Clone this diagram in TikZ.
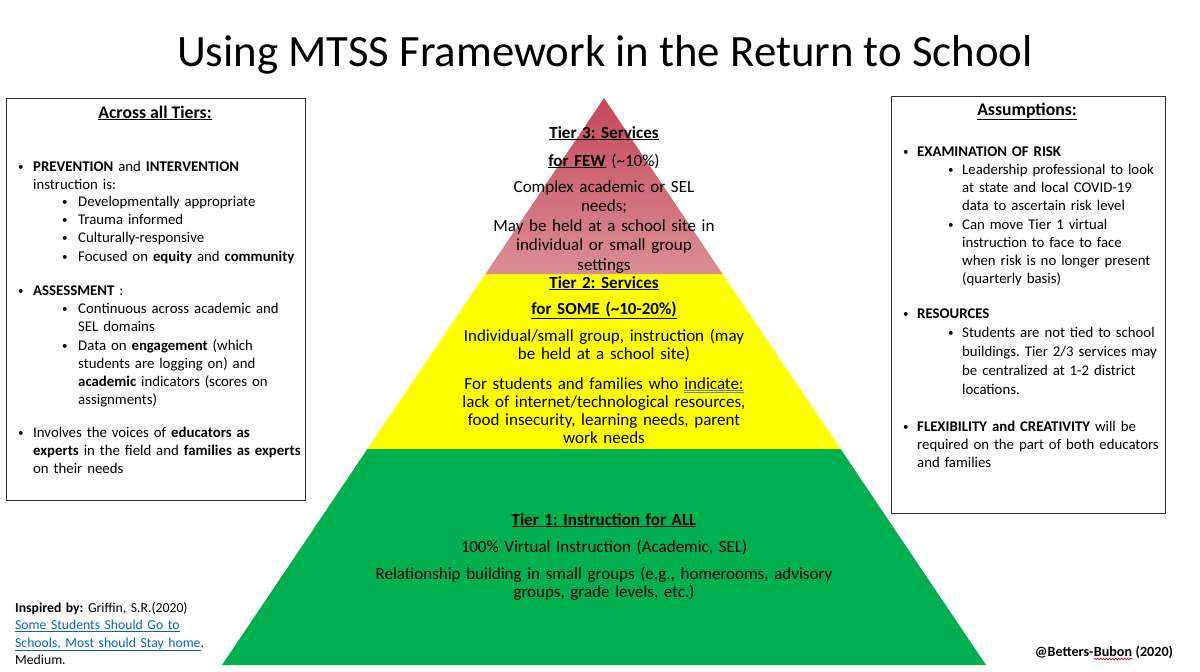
\documentclass[tikz,border=0pt]{standalone}
\usepackage{fontspec}
\setmainfont{Carlito}
\usetikzlibrary{positioning,decorations.pathmorphing}
\frenchspacing

\definecolor{tierthreetop}{RGB}{196,72,90}
\definecolor{tierthreebot}{RGB}{219,142,150}
\definecolor{tiertwo}{RGB}{255,255,0}
\definecolor{tierone}{RGB}{0,176,80}
\definecolor{boxline}{RGB}{50,50,50}
\definecolor{linkblue}{RGB}{5,99,193}
\definecolor{gramblue}{RGB}{110,130,170}

\newcommand{\gramline}[1]{\rlap{\textcolor{gramblue}{\underline{\underline{\phantom{#1}}}}}#1}
\newcommand{\bu}[1]{\textbf{\underline{#1}}}
\newcommand{\smalldot}{{\fontsize{11}{11}\selectfont\raisebox{1pt}{•}}}

\tikzset{
  sidebox/.style={draw=boxline, line width=1pt},
  boxfont/.style={font=\fontsize{14.8}{18}\selectfont},
  heading/.style={font=\fontsize{17.7}{20}\selectfont, anchor=base, inner sep=0pt},
  dot/.style={boxfont, anchor=base west, inner sep=0pt},
  entry/.style={boxfont, anchor=base west, inner sep=0pt, text width=290pt, align=left},
  tiertext/.style={anchor=base, inner sep=0pt, text width=600pt, align=center, font=\fontsize{17}{#1}\selectfont},
  tiertext/.default=19.5,
  srcfont/.style={font=\fontsize{13.7}{17.5}\selectfont},
  sigfont/.style={font=\fontsize{14.1}{17}\selectfont\bfseries, inner sep=0pt},
}

\begin{document}
\begin{tikzpicture}[x=1pt, y=-1pt]
\useasboundingbox (0,0) rectangle (1200,672);

% title
\node[anchor=base, inner sep=0pt, font=\fontsize{44.8}{50}\selectfont] (title) at (605,66) {Using MTSS Framework in the Return to School};

% pyramid
\fill[tierone] (222,665) -- (367.4,449) -- (840.6,449) -- (986,665) -- cycle;
\fill[tiertwo] (367.4,449) -- (485.4,274) -- (722.6,274) -- (840.6,449) -- cycle;
\shade[top color=tierthreetop, bottom color=tierthreebot] (485.4,274) -- (604,98) -- (722.6,274) -- cycle;

% tier 3
\node[tiertext] (t3a) at (604,138) {\bu{Tier 3: Services}};
\node[tiertext] (t3b) at (604,166) {\bu{for FEW} (\textasciitilde10\%)};
\node[tiertext] (t3c) at (604,192) {Complex academic or SEL\\needs;\\May be held at a school site in\\individual or small group\\settings};

% tier 2
\node[tiertext] (t2a) at (604,288) {\bu{Tier 2: Services}};
\node[tiertext] (t2b) at (604,314) {\bu{for SOME (\textasciitilde10-20\%)}};
\node[tiertext=18] (t2c) at (604,341) {Individual/small group, instruction (may\\be held at a school site)};
\node[tiertext=18] (t2d) at (604,389) {For students and families who \gramline{indicate:}\\lack of internet/technological resources,\\food insecurity, learning needs, parent\\work needs};

% tier 1
\node[tiertext] (t1a) at (604,525) {\bu{Tier 1: Instruction for ALL}};
\node[tiertext] (t1b) at (604,552) {100\% Virtual Instruction (Academic, SEL)};
\node[tiertext=18] (t1c) at (604,579) {Relationship building in small groups (e.g., homerooms, advisory\\groups, grade levels, etc.)};

% left box
\draw[sidebox] (6,98) rectangle (305,500);
\node[heading] (across) at (155,118) {\bu{Across all Tiers:}};
\node[dot] at (18,171) {\smalldot};
\node[entry] (prev) at (33,171) {\textbf{PREVENTION} and \textbf{INTERVENTION}\\instruction is:};
\foreach \t [count=\i] in {Developmentally appropriate, Trauma informed, Culturally-responsive, Focused on \textbf{equity} and \textbf{community}}{
  \node[dot] at (62,188+18.3*\i) {\smalldot};
  \node[entry] (prev\i) at (78,188+18.3*\i) {\t};
}
\node[dot] at (18,295) {\smalldot};
\node[entry] (assess) at (33,295) {\textbf{ASSESSMENT} :};
\node[dot] at (62,313) {\smalldot};
\node[entry] (assess1) at (78,313) {Continuous across academic and\\SEL domains};
\node[dot] at (62,350) {\smalldot};
\node[entry] (assess2) at (78,350) {Data on \textbf{engagement} (which\\students are logging on) and\\\textbf{academic} indicators (scores on\\assignments)};
\node[dot] at (18,437) {\smalldot};
\node[entry] (voices) at (33,437) {Involves the voices of \textbf{educators as}\\\textbf{experts} in the field and \textbf{families as experts}\\on their needs};

% right box
\draw[sidebox] (891,96) rectangle (1165,513);
\node[heading] (assume) at (1027,115) {\bu{Assumptions:}};
\node[dot] at (903,156) {\smalldot};
\node[entry] (risk) at (917,156) {\textbf{EXAMINATION OF RISK}};
\node[dot] at (948,174) {\smalldot};
\node[entry] (risk1) at (962,174) {Leadership professional to look\\at state and local COVID-19\\data to ascertain risk level};
\node[dot] at (948,229) {\smalldot};
\node[entry] (risk2) at (962,229) {Can move Tier 1 virtual\\instruction to face to face\\when risk is no longer present\\(quarterly basis)};
\node[dot] at (903,318) {\smalldot};
\node[entry] (res) at (917,318) {\textbf{RESOURCES}};
\node[dot] at (948,337) {\smalldot};
\node[entry, font=\fontsize{14.8}{19}\selectfont] (res1) at (962,337) {Students are not tied to school\\buildings. Tier 2/3 services may\\be centralized at 1-2 district\\locations.};
\node[dot] at (903,431) {\smalldot};
\node[entry] (flex) at (917,431) {\textbf{FLEXIBILITY and CREATIVITY} will be\\required on the part of both educators\\and families};

% source and signature
\node[srcfont, anchor=base west, inner sep=0pt, text width=240pt, align=left] (src) at (15,612) {\textbf{Inspired by:} Griffin, S.R.(2020)\\\textcolor{linkblue}{\underline{Some Students Should Go to}}\\\textcolor{linkblue}{\underline{Schools, Most should Stay home}}.\\Medium.};
\node[sigfont, anchor=base] (sigB) at (1113,656) {Bubon};
\node[sigfont, left=0pt of sigB.base west, anchor=base east] (sigA) {@Betters-};
\node[sigfont, right=0pt of sigB.base east, anchor=base west] (sigC) {\ (2020)};
\draw[red!80!black, line width=0.6pt, decorate, decoration={snake, amplitude=0.9pt, segment length=3pt}] ([yshift=-3pt]sigB.base west) -- ([yshift=-3pt]sigB.base east);
\end{tikzpicture}
\end{document}
